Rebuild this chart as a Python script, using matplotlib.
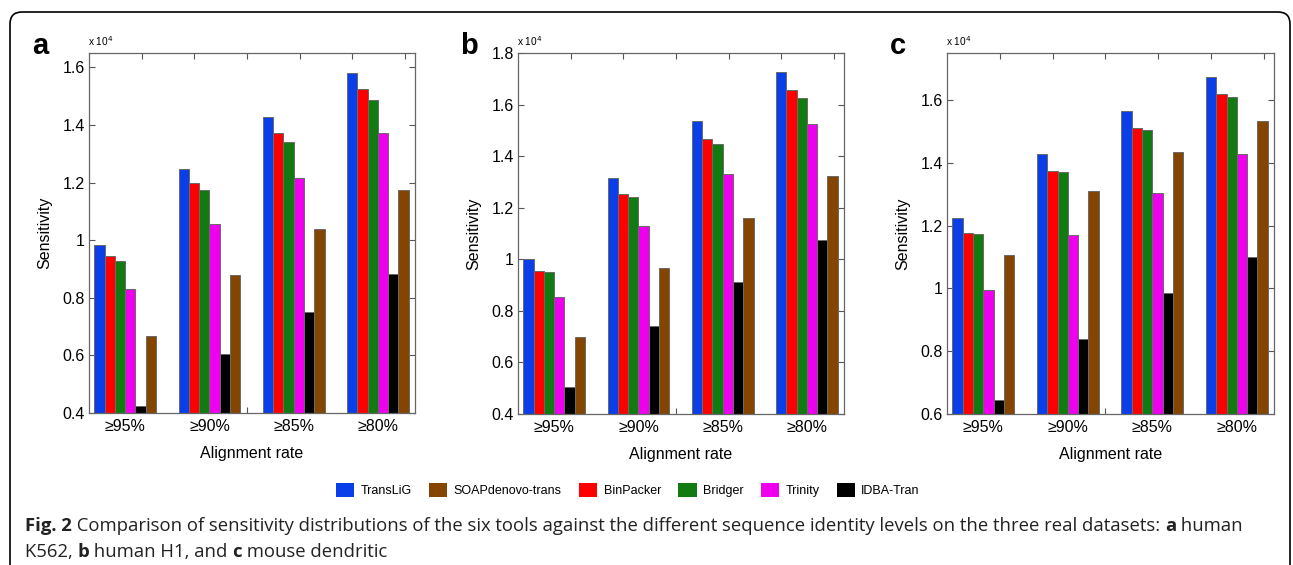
import numpy as np
import matplotlib
matplotlib.use("Agg")
import matplotlib.pyplot as plt
from matplotlib.patches import FancyBboxPatch, Patch
from matplotlib.ticker import FormatStrFormatter

# ===== DATA =====
rates = ["≥95%", "≥90%", "≥85%", "≥80%"]
tools = ["TransLiG", "BinPacker", "Bridger", "Trinity", "IDBA-Tran", "SOAPdenovo-trans"]
legend_order = ["TransLiG", "SOAPdenovo-trans", "BinPacker", "Bridger", "Trinity", "IDBA-Tran"]

# Sensitivity (x 10^4), one list per tool, one value per alignment rate
k562 = {
    "TransLiG":         [0.983, 1.248, 1.428, 1.581],
    "BinPacker":        [0.946, 1.200, 1.372, 1.526],
    "Bridger":          [0.927, 1.174, 1.341, 1.488],
    "Trinity":          [0.831, 1.057, 1.217, 1.373],
    "IDBA-Tran":        [0.423, 0.604, 0.752, 0.884],
    "SOAPdenovo-trans": [0.666, 0.880, 1.039, 1.174],
}
h1 = {
    "TransLiG":         [1.002, 1.315, 1.537, 1.726],
    "BinPacker":        [0.955, 1.253, 1.466, 1.656],
    "Bridger":          [0.950, 1.242, 1.448, 1.625],
    "Trinity":          [0.852, 1.128, 1.330, 1.524],
    "IDBA-Tran":        [0.505, 0.740, 0.911, 1.073],
    "SOAPdenovo-trans": [0.699, 0.968, 1.159, 1.324],
}
dendritic = {
    "TransLiG":         [1.225, 1.429, 1.565, 1.672],
    "BinPacker":        [1.176, 1.375, 1.511, 1.620],
    "Bridger":          [1.173, 1.371, 1.504, 1.611],
    "Trinity":          [0.994, 1.170, 1.303, 1.427],
    "IDBA-Tran":        [0.644, 0.840, 0.986, 1.099],
    "SOAPdenovo-trans": [1.107, 1.310, 1.435, 1.532],
}

colors = {
    "TransLiG": "#0a3ee8",
    "BinPacker": "#ff0000",
    "Bridger": "#117a11",
    "Trinity": "#ee00ee",
    "IDBA-Tran": "#000000",
    "SOAPdenovo-trans": "#834500",
}
# ================

W, H = 1293, 565
plt.rcParams["font.family"] = ["Liberation Sans", "DejaVu Sans"]
fig = plt.figure(figsize=(W / 100, H / 100), dpi=100)


def px_axes(left, top, right, bottom):
    return fig.add_axes([left / W, 1 - bottom / H, (right - left) / W, (bottom - top) / H])


def draw_panel(ax, data, ylim, yticks, letter):
    x = np.arange(1, len(rates) + 1)
    bw = 0.122
    for i, tool in enumerate(tools):
        ax.bar(x + (i - 2.5) * bw, np.array(data[tool]) - ylim[0], bw, bottom=ylim[0],
               color=colors[tool], edgecolor="#6a6a6a", linewidth=0.7)
    ax.set_xlim(0.57, 4.44)
    ax.set_ylim(*ylim)
    ax.set_yticks(yticks)
    ax.yaxis.set_major_formatter(FormatStrFormatter("%g"))
    ax.set_xticks(x)
    ax.set_xticklabels(rates, fontsize=11.5)
    ax.tick_params(axis="x", which="major", length=0, pad=4)
    # hidden-axis style ticks along top and bottom
    lo, hi = ax.get_xlim()
    ax.set_xticks(lo + np.arange(1, 7) / 6.19 * (hi - lo), minor=True)
    ax.tick_params(axis="x", which="minor", direction="in", length=4, top=True,
                   bottom=True, color="#555555", width=0.8)
    ax.tick_params(axis="y", direction="in", length=4, right=True, labelsize=11.5,
                   color="#555555", width=0.8, pad=3)
    ax.set_axisbelow(True)
    for s in ax.spines.values():
        s.set_color("#666666")
        s.set_linewidth(0.9)
    ax.set_ylabel("Sensitivity", fontsize=11.5, labelpad=7)
    ax.set_xlabel("Alignment rate", fontsize=11.5, labelpad=9)
    ax.text(-0.003, 1.013, r"x 10$^4$", transform=ax.transAxes, fontsize=7.3, va="bottom")
    ax.text(-0.15, 0.997, letter, transform=ax.transAxes, fontsize=21, fontweight="bold",
            va="baseline", ha="center")


ax_a = px_axes(89, 53, 415, 413)
ax_b = px_axes(518, 53, 844, 414)
ax_c = px_axes(947, 53, 1274, 414)

draw_panel(ax_a, k562, (0.4, 1.65), [0.4, 0.6, 0.8, 1.0, 1.2, 1.4, 1.6], "a")
draw_panel(ax_b, h1, (0.4, 1.8), [0.4, 0.6, 0.8, 1.0, 1.2, 1.4, 1.6, 1.8], "b")
draw_panel(ax_c, dendritic, (0.6, 1.75), [0.6, 0.8, 1.0, 1.2, 1.4, 1.6], "c")

# Legend
handles = [Patch(facecolor=colors[t], edgecolor="none") for t in legend_order]
fig.legend(handles, legend_order, loc="center", bbox_to_anchor=(628 / W, 1 - 490 / H),
           ncol=6, frameon=False, fontsize=9, handlelength=1.45, handleheight=1.3,
           handletextpad=0.5, columnspacing=1.4)

# Card frame
frame = FancyBboxPatch((0.10, -0.3), 12.80, 5.83, boxstyle="round,pad=0,rounding_size=0.12",
                       transform=fig.dpi_scale_trans, facecolor="none", edgecolor="black",
                       linewidth=1.2, clip_on=False)
fig.patches.append(frame)

# Caption with bold fragments
renderer = fig.canvas.get_renderer()


def rich_line(x_px, y_px, parts, size=13.3):
    x = x_px
    for txt, bold in parts:
        t = fig.text(x / W, 1 - y_px / H, txt, fontsize=size, family=["Open Sans", "DejaVu Sans"],
                     fontweight="bold" if bold else "normal", va="baseline", color="#222222")
        bb = t.get_window_extent(renderer=renderer)
        x += bb.width


rich_line(25, 531, [("Fig. 2", True),
                    (" Comparison of sensitivity distributions of the six tools against the different "
                     "sequence identity levels on the three real datasets: ", False),
                    ("a", True), (" human", False)])
rich_line(25, 557, [("K562, ", False), ("b", True), (" human H1, and ", False), ("c", True),
                    (" mouse dendritic", False)])

fig.savefig("out.png", dpi=100)
